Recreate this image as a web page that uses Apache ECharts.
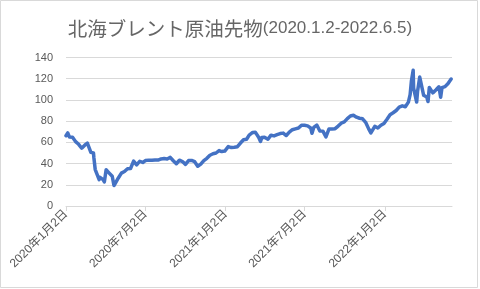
<!DOCTYPE html>
<html>
<head>
<meta charset="utf-8">
<script src="https://cdn.jsdelivr.net/npm/echarts@6/dist/echarts.min.js"></script>
<style>
html,body{margin:0;padding:0;background:#fff;}
#c{width:480px;height:289px;}
</style>
</head>
<body>
<div id="c"></div>
<script>
const titleMain = '北海ブレント原油先物';
const titleSub = '(2020.1.2-2022.6.5)';
const dates = ['2020-01-02','2020-01-06','2020-01-10','2020-01-17','2020-01-24','2020-01-31','2020-02-07','2020-02-14','2020-02-20','2020-02-28','2020-03-05','2020-03-06','2020-03-09','2020-03-13','2020-03-18','2020-03-20','2020-03-27','2020-03-30','2020-04-03','2020-04-09','2020-04-17','2020-04-21','2020-04-24','2020-05-01','2020-05-08','2020-05-15','2020-05-22','2020-05-29','2020-06-05','2020-06-12','2020-06-19','2020-06-26','2020-07-02','2020-07-10','2020-07-17','2020-07-24','2020-07-31','2020-08-07','2020-08-14','2020-08-21','2020-08-28','2020-09-04','2020-09-11','2020-09-18','2020-09-25','2020-10-02','2020-10-09','2020-10-16','2020-10-23','2020-10-30','2020-11-06','2020-11-13','2020-11-20','2020-11-27','2020-12-04','2020-12-11','2020-12-18','2020-12-24','2020-12-31','2021-01-08','2021-01-15','2021-01-22','2021-01-29','2021-02-05','2021-02-12','2021-02-19','2021-02-25','2021-03-05','2021-03-11','2021-03-19','2021-03-23','2021-03-26','2021-04-01','2021-04-09','2021-04-16','2021-04-23','2021-04-30','2021-05-07','2021-05-14','2021-05-21','2021-05-28','2021-06-04','2021-06-11','2021-06-18','2021-06-25','2021-07-02','2021-07-09','2021-07-16','2021-07-19','2021-07-23','2021-07-30','2021-08-06','2021-08-13','2021-08-20','2021-08-27','2021-09-03','2021-09-10','2021-09-17','2021-09-24','2021-10-01','2021-10-08','2021-10-15','2021-10-22','2021-10-29','2021-11-05','2021-11-12','2021-11-19','2021-11-26','2021-12-01','2021-12-03','2021-12-10','2021-12-17','2021-12-24','2021-12-31','2022-01-07','2022-01-14','2022-01-21','2022-01-28','2022-02-04','2022-02-11','2022-02-18','2022-02-25','2022-03-01','2022-03-04','2022-03-08','2022-03-09','2022-03-11','2022-03-16','2022-03-18','2022-03-23','2022-03-25','2022-04-01','2022-04-08','2022-04-11','2022-04-14','2022-04-22','2022-04-29','2022-05-06','2022-05-10','2022-05-13','2022-05-20','2022-05-27','2022-06-03'];
const prices = [66.25,68.91,64.98,64.85,60.69,58.16,54.47,57.32,59.31,50.52,49.99,45.27,34.36,33.85,24.88,26.98,24.93,22.76,34.11,31.48,28.08,19.33,21.44,26.44,30.97,32.50,35.13,35.33,42.30,38.73,42.19,41.02,42.80,43.24,43.14,43.34,43.30,44.40,44.80,44.35,45.81,42.66,39.83,43.15,41.92,39.27,42.85,42.93,41.77,37.46,39.45,42.78,44.96,47.88,49.25,49.97,52.26,51.29,51.80,55.99,55.10,55.41,55.88,59.34,62.43,62.91,66.88,69.36,69.63,64.53,60.79,64.57,64.86,62.95,66.77,66.11,67.25,68.28,68.71,66.44,69.63,71.89,72.69,73.51,76.18,76.17,75.55,73.59,68.62,74.10,76.33,70.70,70.59,65.18,72.70,72.61,72.92,75.34,78.09,79.28,82.39,84.86,85.53,83.72,82.74,82.17,78.89,72.72,68.87,69.88,75.15,73.52,76.14,77.78,81.75,86.06,87.89,90.03,93.27,94.44,93.54,97.93,104.97,118.11,127.98,111.14,112.67,98.02,107.93,121.60,120.65,104.39,102.78,98.48,111.70,106.65,109.34,112.39,102.46,111.55,112.55,115.56,119.72];
const xTickDates = ['2020-01-02','2020-07-02','2021-01-02','2021-07-02','2022-01-02'];
const xRange = ['2020-01-02','2022-06-05'];
const yTicks = [0,20,40,60,80,100,120,140];

const DAY = 86400000;
const base = Date.UTC(2020,0,2);
function toDay(s){ const p = s.split('-').map(Number); return Math.round((Date.UTC(p[0], p[1]-1, p[2]) - base)/DAY); }
function dayLabel(v){ const d = new Date(base + Math.round(v)*DAY); return d.getUTCFullYear()+'年'+(d.getUTCMonth()+1)+'月'+d.getUTCDate()+'日'; }

const chart = echarts.init(document.getElementById('c'), null, {renderer:'canvas'});
const gray = '#595959';
const xTickDays = xTickDates.map(toDay);
const option = {
  animation:false,
  backgroundColor:'#fff',
  title:{
    text:'{a|'+titleMain+'}{b|'+titleSub+'}',
    left:'center', top:14,
    textStyle:{
      rich:{
        a:{fontFamily:'"Noto Sans CJK JP"', fontSize:19.5, color:'#666', fontWeight:'normal'},
        b:{fontFamily:'"Liberation Sans"', fontSize:17, color:'#666', fontWeight:'normal'}
      }
    }
  },
  graphic:[{type:'rect', shape:{x:0.5,y:0.5,width:477,height:287}, style:{fill:'none', stroke:'#d9d9d9', lineWidth:1}, silent:true}],
  grid:{left:66, right:28, top:57.5, bottom:83, containLabel:false},
  xAxis:{
    type:'value',
    min:toDay(xRange[0]), max:toDay(xRange[1]),
    axisLine:{show:true, lineStyle:{color:'#d9d9d9', width:1}},
    axisTick:{show:true, length:5, lineStyle:{color:'#d9d9d9'}, customValues:xTickDays},
    splitLine:{show:false},
    axisLabel:{
      customValues:xTickDays,
      rotate:45, margin:6, color:gray, fontSize:12,
      fontFamily:'"Liberation Sans","Noto Sans CJK JP"',
      formatter:dayLabel
    }
  },
  yAxis:{
    type:'value', min:yTicks[0], max:yTicks[yTicks.length-1], interval:yTicks[1]-yTicks[0],
    axisLine:{show:false}, axisTick:{show:false},
    splitLine:{lineStyle:{color:'#d9d9d9', width:1}},
    axisLabel:{color:gray, fontSize:11, margin:13, fontFamily:'"Liberation Sans"'}
  },
  series:[{
    type:'line',
    data:dates.map((d,i)=>[toDay(d), prices[i]]),
    showSymbol:false,
    lineStyle:{color:'#4472C4', width:3.5, join:'round', cap:'round'},
    itemStyle:{color:'#4472C4'}
  }]
};
chart.setOption(option);
</script>
</body>
</html>
